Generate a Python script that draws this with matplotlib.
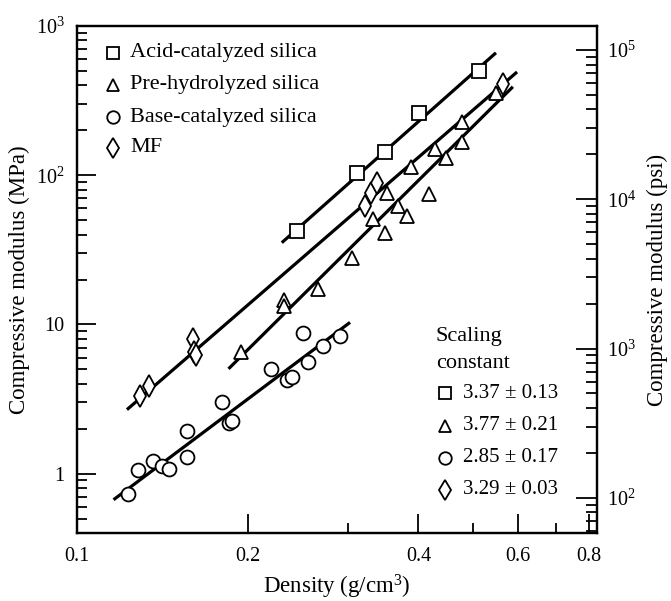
import numpy as np
import matplotlib
matplotlib.use("Agg")
import matplotlib.pyplot as plt
from matplotlib.ticker import FixedLocator, FixedFormatter, NullFormatter

plt.rcParams['font.family'] = ['Liberation Serif', 'DejaVu Serif']
plt.rcParams['mathtext.fontset'] = 'custom'
plt.rcParams['mathtext.rm'] = 'Liberation Serif'
plt.rcParams['mathtext.it'] = 'Liberation Serif:italic'

# ---- data (density g/cm3, compressive modulus MPa) ----
acid_rho = [0.244, 0.312, 0.349, 0.401, 0.512]
acid_E = [42, 103, 143, 261, 499]

pre_rho = [0.195, 0.232, 0.232, 0.266, 0.306, 0.333, 0.349, 0.352, 0.368, 0.382,
           0.388, 0.418, 0.428, 0.448, 0.477, 0.477, 0.548]
pre_E = [6.5, 14.5, 13.2, 17.4, 27.7, 50.7, 40.8, 75.7, 62, 53,
         113, 74.5, 150, 131, 228, 166, 355]

base_rho = [0.123, 0.128, 0.136, 0.141, 0.145, 0.156, 0.156, 0.180, 0.185, 0.188,
            0.220, 0.235, 0.239, 0.250, 0.255, 0.271, 0.291]
base_E = [0.73, 1.05, 1.22, 1.13, 1.08, 1.94, 1.30, 3.04, 2.20, 2.27,
          4.99, 4.27, 4.41, 8.7, 5.56, 7.12, 8.3]

mf_rho = [0.129, 0.134, 0.160, 0.161, 0.162, 0.322, 0.330, 0.338, 0.564]
mf_E = [3.3, 3.85, 8.0, 6.5, 6.2, 62, 76, 88, 408]

# power-law fits E = A * rho^n
series_names = ["Acid-catalyzed silica", "Pre-hydrolyzed silica",
                "Base-catalyzed silica", "MF"]
exponents = [3.37, 3.77, 2.85, 3.29]
exp_err = [0.13, 0.21, 0.17, 0.03]
prefactors = [5020, 2917, 310, 2685]
fit_min = [0.2297, 0.185, 0.116, 0.1225]
fit_max = [0.548, 0.587, 0.303, 0.597]

MPA_TO_PSI = 145.038

fig = plt.figure(figsize=(6.71, 6.01), dpi=100)
ax = fig.add_axes([77/671, 1-533/601, 520/671, 507/601])

ax.set_xscale('log')
ax.set_yscale('log')
ax.set_xlim(0.1, 0.826)
ax.set_ylim(0.4, 1000)

markers = ['s', '^', 'o', 'd']
msizes = [9.5, 10, 10, 11]
data = [(acid_rho, acid_E), (pre_rho, pre_E), (base_rho, base_E), (mf_rho, mf_E)]

for i in range(4):
    xs = np.geomspace(fit_min[i], fit_max[i], 50)
    ax.plot(xs, prefactors[i] * xs ** exponents[i], color='black', lw=2.3,
            solid_capstyle='butt', zorder=2)
for i in range(4):
    x, y = data[i]
    ax.plot(x, y, linestyle='none', marker=markers[i], ms=msizes[i],
            mfc='white', mec='black', mew=1.3, zorder=3)

# ticks
ax.xaxis.set_major_locator(FixedLocator([0.1, 0.2, 0.4, 0.6, 0.8]))
ax.xaxis.set_major_formatter(FixedFormatter(['0.1', '0.2', '0.4', '0.6', '0.8']))
ax.xaxis.set_minor_locator(FixedLocator([0.3, 0.5, 0.7]))
ax.xaxis.set_minor_formatter(NullFormatter())

ax.yaxis.set_major_locator(FixedLocator([1, 10, 100, 1000]))
ax.yaxis.set_major_formatter(FixedFormatter(['1', '10', r'10$^2$', r'10$^3$']))
ymin = [k * 10.0 ** d for d in (-1, 0, 1, 2) for k in range(2, 10)]
ax.yaxis.set_minor_locator(FixedLocator(ymin))
ax.yaxis.set_minor_formatter(NullFormatter())

ax.tick_params(axis='both', which='major', direction='in', length=14, width=1.3,
               labelsize=14.5)
ax.tick_params(axis='both', which='minor', direction='in', length=7, width=1.3)
ax.tick_params(axis='x', which='both', top=False, pad=10)
ax.tick_params(axis='y', which='both', right=False, pad=9)
for s in ax.spines.values():
    s.set_linewidth(1.6)

ax2 = ax.twinx()
ax2.set_yscale('log')
ax2.set_ylim(0.4 * MPA_TO_PSI, 1000 * MPA_TO_PSI)
ax2.yaxis.set_major_locator(FixedLocator([1e2, 1e3, 1e4, 1e5]))
ax2.yaxis.set_major_formatter(FixedFormatter([r'10$^2$', r'10$^3$', r'10$^4$', r'10$^5$']))
ymin2 = [k * 10.0 ** d for d in (1, 2, 3, 4, 5) for k in range(2, 10)]
ax2.yaxis.set_minor_locator(FixedLocator(ymin2))
ax2.yaxis.set_minor_formatter(NullFormatter())
ax2.tick_params(axis='y', which='major', direction='in', length=15, width=1.3,
                labelsize=14.5, pad=7)
ax2.tick_params(axis='y', which='minor', direction='in', length=8, width=1.3)
for s in ax2.spines.values():
    s.set_linewidth(1.6)

ax.set_xlabel(r'Density (g/cm$^3$)', fontsize=16.5, labelpad=5)
ax.set_ylabel('Compressive modulus (MPa)', fontsize=16.5, labelpad=4)
ax2.set_ylabel('Compressive modulus (psi)', fontsize=16.5, labelpad=8)

# legend (top-left)
leg_y = [53, 85, 117, 148]
for i in range(4):
    yf = 1 - leg_y[i] / 601
    fig.lines.append(plt.Line2D([113/671], [yf], transform=fig.transFigure,
                                marker=markers[i], ms=msizes[i]*0.9, mfc='white',
                                mec='black', mew=1.3, linestyle='none'))
    fig.text(130/671, yf, series_names[i], fontsize=16, va='center', ha='left')

# scaling constant legend
fig.text(436/671, 1 - 337/601, 'Scaling', fontsize=16, va='center', ha='left')
fig.text(436/671, 1 - 363/601, 'constant', fontsize=16, va='center', ha='left')
sc_y = [393, 426, 458, 490]
for i in range(4):
    yf = 1 - sc_y[i] / 601
    fig.lines.append(plt.Line2D([445/671], [yf], transform=fig.transFigure,
                                marker=markers[i], ms=msizes[i]*0.9, mfc='white',
                                mec='black', mew=1.3, linestyle='none'))
    fig.text(463/671, yf, f'{exponents[i]:.2f} \u00b1 {exp_err[i]:.2f}', fontsize=15,
             va='center', ha='left')

fig.savefig('out.png', dpi=100)
